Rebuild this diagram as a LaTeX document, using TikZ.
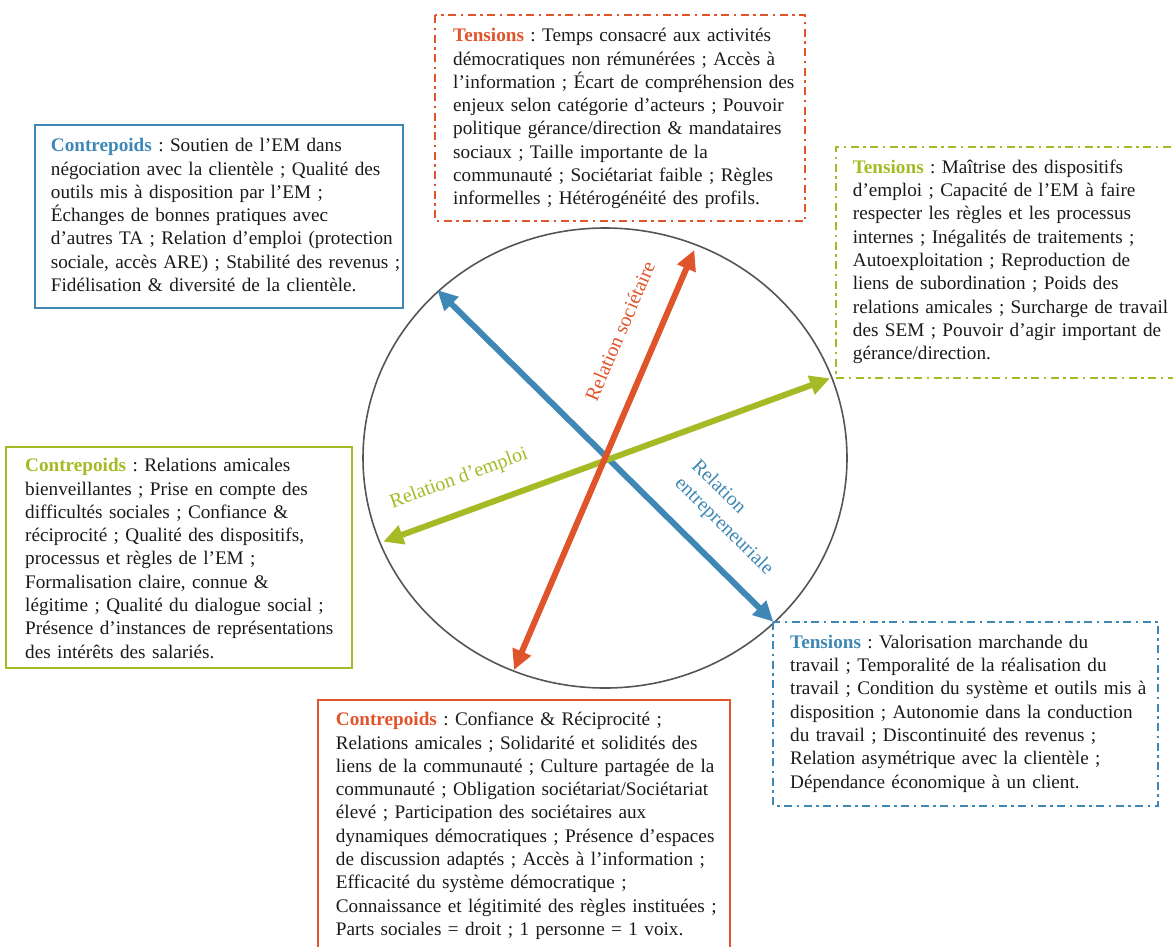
\documentclass[tikz,border=0pt]{standalone}
\usepackage{fontspec}
\setmainfont{Liberation Serif}
\usetikzlibrary{arrows.meta,shapes.geometric}
\definecolor{cred}{HTML}{E0542B}
\definecolor{cblue}{HTML}{3F88B5}
\definecolor{cgreen}{HTML}{A6BA25}
\definecolor{cgray}{HTML}{555555}
\definecolor{ctext}{HTML}{1A1A1A}
\tikzset{
  boxtext/.style={anchor=base west, inner sep=0pt, text width=440pt, align=left,
    font=\fontsize{19.2}{23.3}\selectfont\frenchspacing, text=ctext},
  solidbox/.style={line width=1.8pt},
  dotdashbox/.style={line width=1.8pt, dash pattern=on 8pt off 4.5pt on 2.5pt off 4.5pt},
  relarrow/.style={line width=6pt, {Triangle[length=20pt,width=19pt]}-{Triangle[length=20pt,width=19pt]}},
  rellabel/.style={inner sep=0pt, font=\fontsize{20}{24}\selectfont, align=left}
}
\begin{document}
\begin{tikzpicture}[x=1pt,y=-1pt]
\useasboundingbox (0,0) rectangle (1173,946);
% circle
\node[draw=cgray, line width=1.6pt, ellipse, minimum width=484pt, minimum height=460pt, inner sep=0pt] (circ) at (605,458) {};
% arrow end points
\coordinate (bA) at (437.3,290);
\coordinate (bB) at (773.3,621.7);
\coordinate (rA) at (514,670);
\coordinate (rB) at (694.3,250);
\coordinate (gA) at (383.3,541.7);
\coordinate (gB) at (830,378.3);
\draw[relarrow, cblue] (bA) -- (bB);
\draw[relarrow, cgreen] (gA) -- (gB);
\draw[relarrow, cred] (rA) -- (rB);
% axis labels
\node[rellabel, text=cred, rotate=66.8] (lsoc) at (620,331) {Relation sociétaire};
\node[rellabel, text=cgreen, rotate=20.1] (lemp) at (459,479) {Relation d’emploi};
\node[rellabel, text=cblue, rotate=-44.7] (lent) at (732,518) {Relation\\entrepreneuriale};
% boxes
\draw[dotdashbox, cred] (435,15) rectangle (805,221);
\node[boxtext] (tR) at (453,41.7) {\textcolor{cred}{\textbf{Tensions}} : Temps consacré aux activités\\
démocratiques non rémunérées ; Accès à\\
l’information ; Écart de compréhension des\\
enjeux selon catégorie d’acteurs ; Pouvoir\\
politique gérance/direction \& mandataires\\
sociaux ; Taille importante de la\\
communauté ; Sociétariat faible ; Règles\\
informelles ; Hétérogénéité des profils.};

\draw[solidbox, cblue] (35,125) rectangle (402.7,308);
\node[boxtext] (cB) at (50.7,151.7) {\textcolor{cblue}{\textbf{Contrepoids}} : Soutien de l’EM dans\\
négociation avec la clientèle ; Qualité des\\
outils mis à disposition par l’EM ;\\
Échanges de bonnes pratiques avec\\
d’autres TA ; Relation d’emploi (protection\\
sociale, accès ARE) ; Stabilité des revenus ;\\
Fidélisation \& diversité de la clientèle.};

\draw[dotdashbox, cgreen] (1190,147.3) -- (836,147.3) -- (836,378) -- (1190,378);
\node[boxtext] (tG) at (852.7,173.3) {\textcolor{cgreen}{\textbf{Tensions}} : Maîtrise des dispositifs\\
d’emploi ; Capacité de l’EM à faire\\
respecter les règles et les processus\\
internes ; Inégalités de traitements ;\\
Autoexploitation ; Reproduction de\\
liens de subordination ; Poids des\\
relations amicales ; Surcharge de travail\\
des SEM ; Pouvoir d’agir important de\\
gérance/direction.};

\draw[solidbox, cgreen] (6,446.7) rectangle (351.7,668);
\node[boxtext] (cG) at (25,471.7) {\textcolor{cgreen}{\textbf{Contrepoids}} : Relations amicales\\
bienveillantes ; Prise en compte des\\
difficultés sociales ; Confiance \&\\
réciprocité ; Qualité des dispositifs,\\
processus et règles de l’EM ;\\
Formalisation claire, connue \&\\
légitime ; Qualité du dialogue social ;\\
Présence d’instances de représentations\\
des intérêts des salariés.};

\draw[dotdashbox, cblue] (773.3,621.7) rectangle (1158.3,805.7);
\node[boxtext] (tB) at (790,648.3) {\textcolor{cblue}{\textbf{Tensions}} : Valorisation marchande du\\
travail ; Temporalité de la réalisation du\\
travail ; Condition du système et outils mis à\\
disposition ; Autonomie dans la conduction\\
du travail ; Discontinuité des revenus ;\\
Relation asymétrique avec la clientèle ;\\
Dépendance économique à un client.};

\draw[solidbox, cred] (318.3,700) rectangle (730,965);
\node[boxtext] (cR) at (335.7,725.7) {\textcolor{cred}{\textbf{Contrepoids}} : Confiance \& Réciprocité ;\\
Relations amicales ; Solidarité et solidités des\\
liens de la communauté ; Culture partagée de la\\
communauté ; Obligation sociétariat/Sociétariat\\
élevé ; Participation des sociétaires aux\\
dynamiques démocratiques ; Présence d’espaces\\
de discussion adaptés ; Accès à l’information ;\\
Efficacité du système démocratique ;\\
Connaissance et légitimité des règles instituées ;\\
Parts sociales = droit ; 1 personne = 1 voix.};
\end{tikzpicture}
\end{document}
